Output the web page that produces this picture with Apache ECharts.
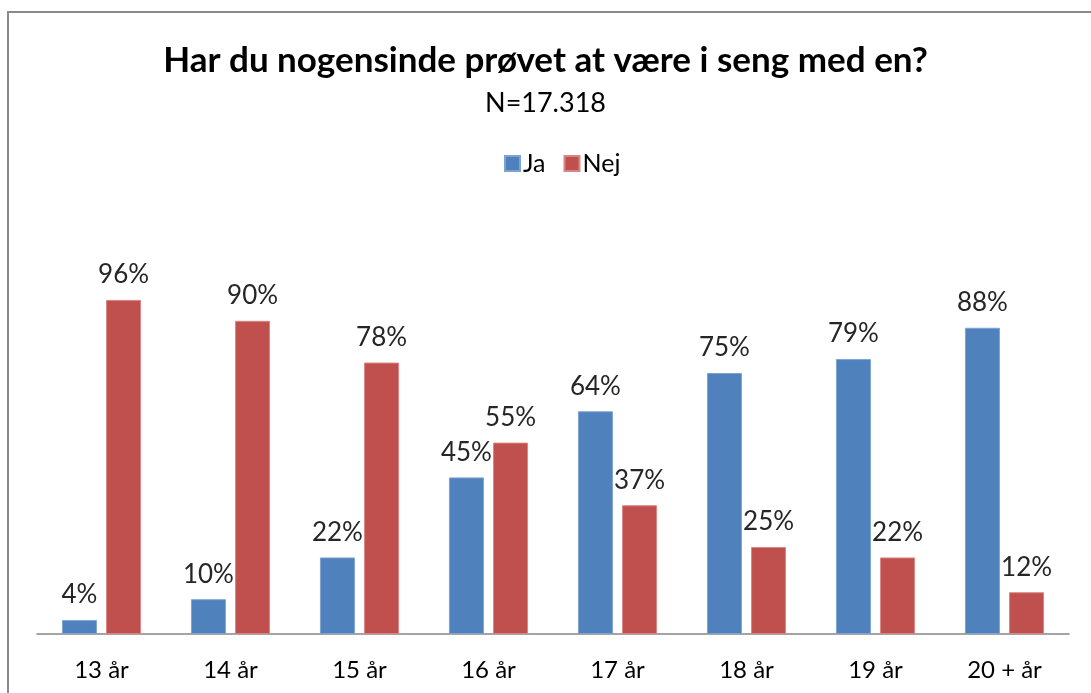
<!DOCTYPE html>
<html>
<head>
<meta charset="utf-8">
<script src="https://cdn.jsdelivr.net/npm/echarts@6/dist/echarts.min.js"></script>
<style>html,body{margin:0;padding:0;background:#fff;}#c{width:1091px;height:693px;}</style>
</head>
<body>
<div id="c"></div>
<script>
const categories = ['13 år','14 år','15 år','16 år','17 år','18 år','19 år','20 + år'];
const ja = [4,10,22,45,64,75,79,88];
const nej = [96,90,78,55,37,25,22,12];
const seriesNames = ['Ja','Nej'];
const titleText = 'Har du nogensinde prøvet at være i seng med en?';
const subtitleText = 'N=17.318';

const FONT = 'Lato, "Open Sans", sans-serif';
const chart = echarts.init(document.getElementById('c'));
const labelCfg = {show:true, position:'top', distance:12, formatter:'{c}%', fontFamily:FONT, fontSize:26, color:'#262626'};
chart.setOption({
  animation:false,
  backgroundColor:'#fff',
  graphic:[{type:'rect', shape:{x:8,y:12,width:1200,height:800}, style:{fill:'none', stroke:'#8a8a8a', lineWidth:2}, silent:true}],
  title:[
    {text:titleText, left:'center', top:38, textStyle:{fontFamily:FONT, fontWeight:'bold', fontSize:35, color:'#000'}},
    {text:subtitleText, left:'center', top:85, textStyle:{fontFamily:FONT, fontWeight:'normal', fontSize:27, color:'#000'}}
  ],
  legend:{data:seriesNames, top:146, left:499, icon:'rect', itemWidth:15, itemHeight:15, itemGap:18,
    textStyle:{fontFamily:FONT, fontSize:25, color:'#000', padding:[0,0,0,-2]}},
  grid:{left:37, right:22, top:286, bottom:59, containLabel:false},
  xAxis:{type:'category', data:categories,
    axisLine:{lineStyle:{color:'#868686', width:1.5}}, axisTick:{show:false},
    axisLabel:{fontFamily:FONT, fontSize:24, color:'#000', margin:24}},
  yAxis:{type:'value', min:0, max:100, show:false, splitLine:{show:false}},
  series:[
    {name:seriesNames[0], type:'bar', data:ja, barWidth:35, barGap:'26%',
      itemStyle:{color:'#4F81BD', borderColor:'#7FA3D0', borderWidth:1}, label:labelCfg},
    {name:seriesNames[1], type:'bar', data:nej, barWidth:35,
      itemStyle:{color:'#C0504D', borderColor:'#D88683', borderWidth:1}, label:labelCfg}
  ]
});
</script>
</body>
</html>
